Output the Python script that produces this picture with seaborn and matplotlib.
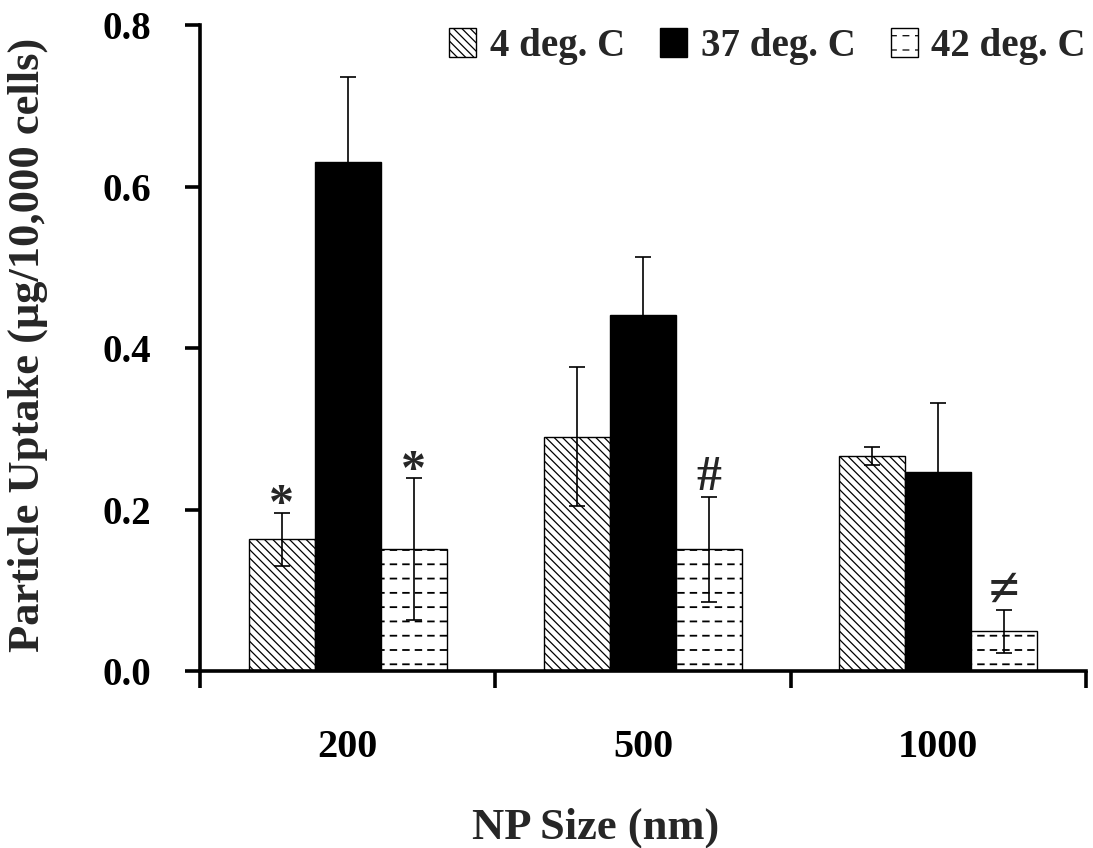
import numpy as np
import pandas as pd
import matplotlib
matplotlib.use("Agg")
import matplotlib.pyplot as plt
import matplotlib.hatch as mhatch
import matplotlib.patches as mpatches
from matplotlib.path import Path
from matplotlib.ticker import FixedLocator, FormatStrFormatter
import seaborn as sns

# ---------------- data ----------------
sizes = ["200", "500", "1000"]
temps = ["4 deg. C", "37 deg. C", "42 deg. C"]
uptake_4 = [0.163, 0.290, 0.266]
uptake_37 = [0.630, 0.441, 0.246]
uptake_42 = [0.151, 0.151, 0.049]
err_4 = [0.033, 0.086, 0.011]
err_37 = [0.106, 0.072, 0.086]
err_42 = [0.088, 0.065, 0.027]
marks_4 = ["*", "", ""]
marks_37 = ["", "", ""]
marks_42 = ["*", "#", "\u2260"]
yticks = [0.0, 0.2, 0.4, 0.6, 0.8]
x_label = "NP Size (nm)"
y_label = "Particle Uptake (\u03bcg/10,000 cells)"

values = [uptake_4, uptake_37, uptake_42]
errors = [err_4, err_37, err_42]
marks = [marks_4, marks_37, marks_42]

df = pd.DataFrame({
    "size": [s for _ in temps for s in sizes],
    "temp": [t for t in temps for _ in sizes],
    "uptake": [v for vals in values for v in vals],
})


# ------------- dashed horizontal hatch (replaces '-') -------------
class DashedHorizontalHatch(mhatch.HatchPatternBase):
    def __init__(self, hatch, density):
        n = hatch.count('-')
        self.num_rows = 7 * n
        self.num_dashes = 8 if self.num_rows else 0
        self.num_vertices = self.num_rows * self.num_dashes * 2

    def set_vertices_and_codes(self, vertices, codes):
        period = 1.0 / self.num_dashes
        k = 0
        for r in range(self.num_rows):
            yv = (r + 0.5) / self.num_rows
            for d in range(self.num_dashes):
                x0 = d * period + period * 0.25
                x1 = x0 + period * 0.45
                vertices[k] = (x0, yv)
                vertices[k + 1] = (x1, yv)
                codes[k] = Path.MOVETO
                codes[k + 1] = Path.LINETO
                k += 2


mhatch._hatch_types[0] = DashedHorizontalHatch

# ---------------- style ----------------
sns.set_style("ticks")
plt.rcParams["font.family"] = ["Liberation Serif", "DejaVu Serif"]
plt.rcParams["font.weight"] = "bold"
plt.rcParams["hatch.linewidth"] = 0.9
plt.rcParams["hatch.color"] = "black"

face_colors = ["white", "black", "white"]
hatches = ["\\\\\\\\", "", "-"]

fig = plt.figure(figsize=(10.93, 8.48), dpi=100)
ax = fig.add_axes([0.183, 0.2087, 0.8106, 0.7618])

sns.barplot(data=df, x="size", y="uptake", hue="temp", order=sizes,
            hue_order=temps, palette=face_colors, width=0.67, gap=0,
            errorbar=None, edgecolor="black", linewidth=1.0, ax=ax,
            legend=False, saturation=1)

mark_style = {"*": (36, -4), "#": (36, 5), "\u2260": (40, 3)}

bar_containers = list(ax.containers)
for i, cont in enumerate(bar_containers):
    for j, bar in enumerate(cont.patches):
        bar.set_facecolor(face_colors[i])
        bar.set_edgecolor("black")
        bar.set_hatch(hatches[i])
        if i == 2 and hasattr(bar, "set_hatch_linewidth"):
            bar.set_hatch_linewidth(1.3)
        cx = bar.get_x() + bar.get_width() / 2
        h = bar.get_height()
        ax.errorbar(cx, h, yerr=errors[i][j], fmt="none", ecolor="black",
                    elinewidth=1.2, capsize=6, capthick=1.2, zorder=3)
        if marks[i][j]:
            m = marks[i][j]
            fs, off = mark_style[m]
            ax.annotate(m, xy=(cx, h + errors[i][j]), xytext=(0, off),
                        textcoords="offset points", ha="center",
                        va="baseline", fontsize=fs, fontweight="bold",
                        family=["Liberation Serif", "DejaVu Serif"])

ax.set_xlim(-0.5, 2.5)
ax.set_ylim(0, 0.8)
ax.yaxis.set_major_locator(FixedLocator(yticks))
ax.yaxis.set_major_formatter(FormatStrFormatter("%.1f"))
ax.xaxis.set_minor_locator(FixedLocator([-0.5, 0.5, 1.5, 2.5]))

for s in ["top", "right"]:
    ax.spines[s].set_visible(False)
for s in ["left", "bottom"]:
    ax.spines[s].set_linewidth(2.6)
    ax.spines[s].set_color("black")

ax.tick_params(axis="y", which="major", direction="out", length=11,
               width=2.6, pad=24, labelsize=28, colors="black")
ax.tick_params(axis="x", which="major", length=0, pad=42, labelsize=29,
               colors="black")
ax.tick_params(axis="x", which="minor", direction="out", length=12,
               width=2.6, colors="black")
for lab in ax.get_xticklabels() + ax.get_yticklabels():
    lab.set_fontweight("bold")

ax.set_xlabel(x_label, fontsize=32, fontweight="bold", va="center")
ax.set_ylabel(y_label, fontsize=32, fontweight="bold", va="center")
ax.xaxis.set_label_coords(0.447, -0.243)
ax.yaxis.set_label_coords(-0.194, 0.505)

handles = []
for i, t in enumerate(temps):
    handles.append(mpatches.Patch(facecolor=face_colors[i], edgecolor="black",
                                  hatch=hatches[i], linewidth=1.0, label=t))
leg = ax.legend(handles=handles, loc="upper right", bbox_to_anchor=(1.0, 0.995),
                ncol=3, frameon=False, fontsize=28, handlelength=0.7,
                handleheight=0.75, handletextpad=0.35, columnspacing=0.9,
                borderaxespad=0, borderpad=0)
for txt in leg.get_texts():
    txt.set_fontweight("bold")

fig.savefig("out.png", dpi=100)
